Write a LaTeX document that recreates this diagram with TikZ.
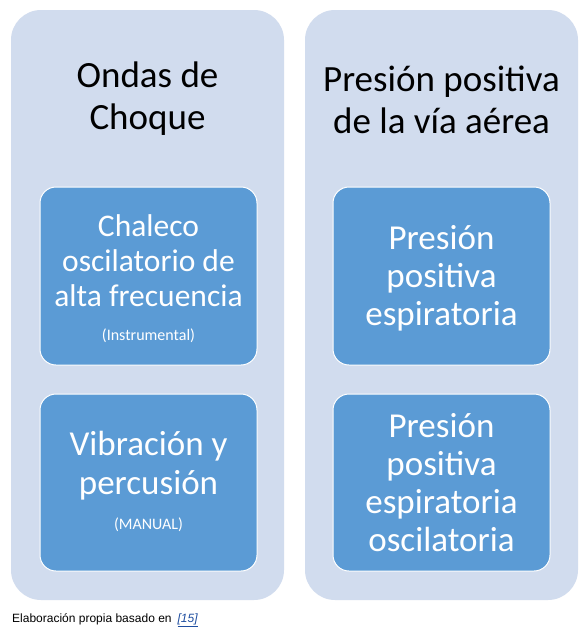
\documentclass[tikz,border=0pt]{standalone}
\usepackage{fontspec}
\setmainfont{Carlito}
\newfontfamily\capfont{Liberation Sans}
\definecolor{outerfill}{RGB}{209,220,238}
\definecolor{innerfill}{RGB}{91,155,213}
\definecolor{linkblue}{RGB}{31,78,160}
\begin{document}
\begin{tikzpicture}[x=1pt,y=-1pt,
  outerbox/.style={fill=outerfill,draw=none,rounded corners=30pt},
  innerbox/.style={fill=innerfill,draw=white,line width=1pt,rounded corners=16pt},
  titletext/.style={align=center,font=\fontsize{37}{42}\selectfont,text=black},
  boxtext/.style={align=center,text=white,font=\fontsize{35}{38}\selectfont},
  smalltext/.style={text=white,font=\fontsize{16}{18}\selectfont}]
\useasboundingbox (0,0) rectangle (583,630);
\fill[white] (0,0) rectangle (583,630);
\draw[outerbox] (11,10) rectangle (284,600);
\draw[outerbox] (305,10) rectangle (578,600);
\node[titletext] (t1) at (147.5,99) {Ondas de\\Choque};
\node[titletext] (t2) at (441.5,100) {Presión positiva\\de la vía aérea};
\draw[innerbox] (40,187) rectangle (257,365);
\draw[innerbox] (40,394) rectangle (257,571);
\draw[innerbox] (333,187) rectangle (550,365);
\draw[innerbox] (333,394) rectangle (550,571);
\node[boxtext,font=\fontsize{31.5}{35}\selectfont] (b1) at (148.5,261) {Chaleco\\oscilatorio de\\alta frecuencia};
\node[smalltext] (b1s) at (148.5,336) {(Instrumental)};
\node[boxtext,font=\fontsize{35}{39}\selectfont] (b2) at (148.5,466) {Vibración y\\percusión};
\node[smalltext] (b2s) at (148.5,525) {(MANUAL)};
\node[boxtext] (b3) at (441.5,278) {Presión\\positiva\\espiratoria};
\node[boxtext] (b4) at (441.5,483) {Presión\\positiva\\espiratoria\\oscilatoria};
\node[anchor=base west,inner sep=0pt,font=\capfont\fontsize{12}{14}\selectfont] (cap) at (12,622) {Elaboración propia basado en\hspace{6pt}\textcolor{linkblue}{\itshape\underline{[15]}}};
\end{tikzpicture}
\end{document}
